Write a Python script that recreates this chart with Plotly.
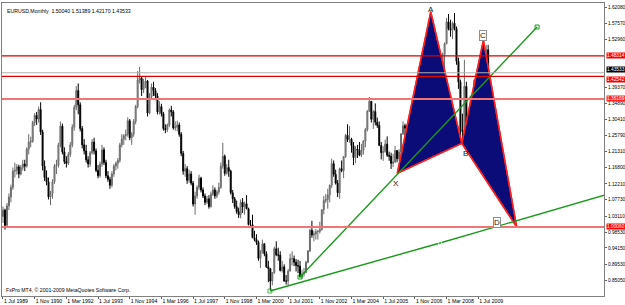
import plotly.graph_objects as go

# ---------------- data (monthly EURUSD, Jul 1989 .. Dec 2009) ----------------
opens = [
 1.030,1.048,1.005,1.060,1.085,1.112,
 1.158,1.160,1.170,1.150,1.168,1.178,1.172,1.220,1.240,1.242,1.295,1.315,
 1.305,1.332,1.268,1.172,1.140,1.128,1.085,1.095,1.128,1.172,1.175,1.232,
 1.285,1.212,1.185,1.180,1.205,1.232,1.282,1.338,1.385,1.345,1.278,1.232,
 1.215,1.190,1.178,1.210,1.240,1.215,1.160,1.145,1.178,1.218,1.182,1.145,
 1.135,1.118,1.150,1.172,1.180,1.188,1.232,1.248,1.258,1.262,1.300,1.252,
 1.262,1.298,1.340,1.415,1.420,1.388,1.408,1.412,1.322,1.368,1.395,1.385,
 1.370,1.325,1.340,1.320,1.278,1.275,1.288,1.330,1.325,1.280,1.282,1.288,
 1.262,1.208,1.158,1.165,1.132,1.150,1.124,1.065,1.088,1.112,1.138,1.105,
 1.088,1.070,1.080,1.058,1.093,1.105,1.088,1.099,1.112,1.172,1.200,1.152,
 1.168,1.158,1.097,1.080,1.058,1.044,1.035,1.070,1.057,1.066,1.052,1.007,
 1.007,0.970,0.965,0.957,0.912,0.932,0.953,0.925,0.888,0.883,0.848,0.872,
 0.939,0.922,0.921,0.878,0.888,0.848,0.848,0.876,0.911,0.911,0.901,0.892,
 0.890,0.860,0.868,0.872,0.901,0.933,0.991,0.978,0.981,0.987,0.988,0.994,
 1.049,1.075,1.078,1.091,1.118,1.179,1.149,1.124,1.097,1.165,1.159,1.199,
 1.259,1.247,1.248,1.230,1.196,1.220,1.217,1.203,1.217,1.243,1.275,1.327,
 1.355,1.304,1.326,1.296,1.287,1.230,1.210,1.213,1.234,1.203,1.200,1.180,
 1.184,1.216,1.193,1.212,1.263,1.286,1.279,1.276,1.281,1.267,1.275,1.324,
 1.320,1.302,1.322,1.336,1.365,1.345,1.353,1.369,1.363,1.426,1.449,1.463,
 1.459,1.486,1.517,1.579,1.560,1.555,1.575,1.560,1.468,1.409,1.273,1.270,
 1.397,1.280,1.267,1.324,1.324,1.415,1.403,1.425,1.433,1.464,1.472,1.5004,
]
highs = [
 1.058,1.052,1.068,1.095,1.120,1.168,
 1.182,1.178,1.176,1.175,1.190,1.190,1.225,1.262,1.255,1.300,1.322,1.325,
 1.340,1.352,1.275,1.188,1.160,1.140,1.102,1.135,1.178,1.190,1.238,1.298,
 1.292,1.225,1.200,1.212,1.240,1.290,1.345,1.398,1.405,1.352,1.285,1.248,
 1.232,1.200,1.215,1.248,1.252,1.222,1.175,1.185,1.232,1.225,1.190,1.158,
 1.142,1.158,1.178,1.185,1.195,1.238,1.262,1.262,1.275,1.310,1.305,1.268,
 1.305,1.345,1.440,1.452,1.425,1.418,1.425,1.415,1.378,1.405,1.410,1.392,
 1.378,1.355,1.348,1.325,1.290,1.292,1.335,1.342,1.330,1.298,1.300,1.295,
 1.268,1.215,1.178,1.172,1.162,1.158,1.130,1.100,1.118,1.148,1.142,1.112,
 1.095,1.088,1.090,1.100,1.118,1.112,1.105,1.125,1.182,1.238,1.205,1.178,
 1.190,1.162,1.105,1.085,1.075,1.055,1.078,1.082,1.072,1.090,1.055,1.020,
 1.035,0.990,0.980,0.962,0.935,0.965,0.955,0.932,0.905,0.885,0.872,0.945,
 0.960,0.942,0.932,0.905,0.895,0.865,0.882,0.925,0.932,0.920,0.910,0.908,
 0.905,0.880,0.885,0.905,0.935,0.995,1.018,0.990,0.995,0.992,1.015,1.050,
 1.088,1.093,1.108,1.120,1.193,1.188,1.162,1.133,1.168,1.188,1.200,1.263,
 1.290,1.285,1.252,1.240,1.228,1.232,1.240,1.235,1.245,1.280,1.330,1.367,
 1.355,1.330,1.349,1.309,1.298,1.240,1.228,1.247,1.256,1.213,1.210,1.207,
 1.229,1.217,1.220,1.265,1.298,1.292,1.288,1.292,1.288,1.282,1.330,1.336,
 1.324,1.326,1.339,1.368,1.368,1.354,1.385,1.380,1.427,1.450,1.497,1.477,
 1.492,1.521,1.590,1.601,1.585,1.580,1.604,1.566,1.478,1.416,1.320,1.472,
 1.410,1.304,1.371,1.347,1.417,1.436,1.427,1.445,1.475,1.508,1.514,1.51389,
]
lows = [
 1.012,0.993,0.998,1.048,1.070,1.105,
 1.140,1.148,1.138,1.146,1.160,1.158,1.168,1.205,1.225,1.238,1.285,1.288,
 1.295,1.260,1.160,1.130,1.118,1.078,1.062,1.080,1.122,1.150,1.168,1.225,
 1.205,1.178,1.168,1.175,1.198,1.225,1.272,1.330,1.318,1.270,1.222,1.205,
 1.182,1.168,1.170,1.205,1.205,1.155,1.138,1.140,1.170,1.175,1.138,1.128,
 1.108,1.112,1.142,1.160,1.165,1.182,1.225,1.232,1.245,1.255,1.245,1.232,
 1.255,1.290,1.335,1.405,1.370,1.378,1.392,1.312,1.318,1.360,1.370,1.358,
 1.318,1.318,1.312,1.272,1.265,1.268,1.282,1.312,1.275,1.272,1.270,1.255,
 1.200,1.148,1.142,1.122,1.125,1.118,1.058,1.035,1.080,1.105,1.098,1.082,
 1.062,1.065,1.052,1.055,1.088,1.080,1.082,1.092,1.108,1.165,1.145,1.148,
 1.142,1.092,1.068,1.052,1.038,1.026,1.025,1.040,1.035,1.050,1.005,1.000,
 0.970,0.960,0.950,0.905,0.885,0.925,0.918,0.885,0.845,0.823,0.836,0.868,
 0.918,0.905,0.875,0.872,0.846,0.838,0.835,0.875,0.892,0.890,0.875,0.870,
 0.858,0.855,0.860,0.870,0.898,0.930,0.970,0.960,0.965,0.965,0.982,0.990,
 1.036,1.068,1.052,1.070,1.110,1.142,1.120,1.085,1.080,1.155,1.138,1.195,
 1.240,1.238,1.210,1.175,1.180,1.195,1.200,1.198,1.205,1.225,1.270,1.325,
 1.295,1.277,1.287,1.280,1.230,1.191,1.187,1.210,1.198,1.187,1.164,1.169,
 1.181,1.183,1.187,1.201,1.260,1.252,1.252,1.271,1.262,1.252,1.273,1.308,
 1.286,1.290,1.303,1.333,1.343,1.330,1.350,1.336,1.362,1.404,1.440,1.432,
 1.437,1.449,1.516,1.555,1.537,1.530,1.555,1.458,1.390,1.233,1.240,1.255,
 1.274,1.251,1.246,1.290,1.318,1.381,1.385,1.405,1.420,1.454,1.463,1.4217,
]
closes = [
 1.048,1.005,1.060,1.085,1.112,1.158,
 1.160,1.170,1.150,1.168,1.178,1.172,1.220,1.240,1.242,1.295,1.315,1.305,
 1.332,1.268,1.172,1.140,1.128,1.085,1.095,1.128,1.172,1.175,1.232,1.285,
 1.212,1.185,1.180,1.205,1.232,1.282,1.338,1.385,1.345,1.278,1.232,1.215,
 1.190,1.178,1.210,1.240,1.215,1.160,1.145,1.178,1.218,1.182,1.145,1.135,
 1.118,1.150,1.172,1.180,1.188,1.232,1.248,1.258,1.262,1.300,1.252,1.262,
 1.298,1.340,1.415,1.420,1.388,1.408,1.412,1.322,1.368,1.395,1.385,1.370,
 1.325,1.340,1.320,1.278,1.275,1.288,1.330,1.325,1.280,1.282,1.288,1.262,
 1.208,1.158,1.165,1.132,1.150,1.124,1.065,1.088,1.112,1.138,1.105,1.088,
 1.070,1.080,1.058,1.093,1.105,1.088,1.099,1.112,1.172,1.200,1.152,1.168,
 1.158,1.097,1.080,1.058,1.044,1.035,1.070,1.057,1.066,1.052,1.007,1.007,
 0.970,0.965,0.957,0.912,0.932,0.953,0.925,0.888,0.883,0.848,0.872,0.939,
 0.922,0.921,0.878,0.888,0.848,0.848,0.876,0.911,0.911,0.901,0.892,0.890,
 0.860,0.868,0.872,0.901,0.933,0.991,0.978,0.981,0.987,0.988,0.994,1.049,
 1.075,1.078,1.091,1.118,1.179,1.149,1.124,1.097,1.165,1.159,1.199,1.259,
 1.247,1.248,1.230,1.196,1.220,1.217,1.203,1.217,1.243,1.275,1.327,1.355,
 1.304,1.326,1.296,1.287,1.230,1.210,1.213,1.234,1.203,1.200,1.180,1.184,
 1.216,1.193,1.212,1.263,1.286,1.279,1.276,1.281,1.267,1.275,1.324,1.320,
 1.302,1.322,1.336,1.365,1.345,1.353,1.369,1.363,1.426,1.449,1.463,1.459,
 1.486,1.517,1.579,1.560,1.555,1.575,1.560,1.468,1.409,1.273,1.270,1.397,
 1.280,1.267,1.324,1.324,1.415,1.403,1.425,1.433,1.464,1.472,1.500,1.43533,
]
months = list(range(len(closes)))          # bar index, 0 = Jul 1989

date_tick_pos = [0, 16, 32, 48, 64, 80, 96, 112, 128, 144, 160, 176, 192, 208, 224, 240]
date_tick_text = ["1 Jul 1989", "1 Nov 1990", "1 Mar 1992", "1 Jul 1993", "1 Nov 1994",
                  "1 Mar 1996", "1 Jul 1997", "1 Nov 1998", "1 Mar 2000", "1 Jul 2001",
                  "1 Nov 2002", "1 Mar 2004", "1 Jul 2005", "1 Nov 2006", "1 Mar 2008",
                  "1 Jul 2009"]
price_ticks = [1.62080, 1.57570, 1.52960, 1.39370, 1.34890, 1.30410, 1.25790, 1.21310,
               1.16800, 1.12210, 1.07730, 1.03110, 0.98530, 0.94150, 0.89530, 0.85050, 0.80570]

# horizontal levels
level_dark = [1.48314, 1.42542]
level_light = [1.36169, 1.00060]
bid_price = 1.43533

# harmonic pattern points (bar index, price)
pat_names = ["X", "A", "B", "C", "D"]
pat_x = [199.1, 216.0, 231.7, 242.6, 259.4]
pat_y = [1.1518, 1.6075, 1.2364, 1.5277, 1.0006]

# trend lines (bar index, price)
tl1_x = [134.8, 220.7, 304.0]
tl1_y = [0.8199, 0.9553, 1.0906]
tl2_x = [150.0, 269.7]
tl2_y = [0.8594, 1.5644]

title_text = "EURUSD,Monthly  1.50040 1.51389 1.42170 1.43533"
copyright_text = "FxPro MT4, \u00a9 2001-2009 MetaQuotes Software Corp."

FONT = "Liberation Sans"
fig = go.Figure()

# filled triangles XAB and BCD
for idx in ([0, 1, 2, 0], [2, 3, 4, 2]):
    fig.add_trace(go.Scatter(
        x=[pat_x[i] for i in idx], y=[pat_y[i] for i in idx],
        mode="lines", fill="toself", fillcolor="#0c0c78",
        line=dict(color="#ff2020", width=1.5), hoverinfo="skip", showlegend=False))

# candles
fig.add_trace(go.Candlestick(
    x=months, open=opens, high=highs, low=lows, close=closes,
    increasing=dict(line=dict(color="#6a6a6a", width=1), fillcolor="#a8a8a8"),
    decreasing=dict(line=dict(color="#000000", width=1), fillcolor="#000000"),
    whiskerwidth=0, showlegend=False))

# red outline again on top (edges)
for a, b in ((0, 1), (1, 2), (0, 2), (2, 3), (3, 4), (2, 4)):
    fig.add_trace(go.Scatter(x=[pat_x[a], pat_x[b]], y=[pat_y[a], pat_y[b]],
                             mode="lines", line=dict(color="#ff2020", width=1.3),
                             hoverinfo="skip", showlegend=False))

# horizontal lines
fig.add_hline(y=bid_price, line=dict(color="#b0b0b0", width=1))
for lv in level_dark:
    fig.add_hline(y=lv, line=dict(color="#dd0000", width=1.2))
for lv in level_light:
    fig.add_hline(y=lv, line=dict(color="#f27575", width=2))

# green trend lines
fig.add_trace(go.Scatter(x=tl1_x, y=tl1_y, mode="lines+markers",
                         line=dict(color="#1a9a1a", width=1.4),
                         marker=dict(symbol=["square-open", "circle", "circle"], size=[4, 3, 0],
                                     color="#1a9a1a"),
                         hoverinfo="skip", showlegend=False))
fig.add_trace(go.Scatter(x=tl2_x, y=tl2_y, mode="lines+markers",
                         line=dict(color="#1a9a1a", width=1.4),
                         marker=dict(symbol="square-open", size=4, color="#1a9a1a"),
                         hoverinfo="skip", showlegend=False))

# pattern labels
label_off = {"X": (-1, -10), "A": (0, 2), "B": (4, -10), "C": (0, 5), "D": (-20, 4)}
for n, px, py in zip(pat_names, pat_x, pat_y):
    dx, dy = label_off[n]
    boxed = n in ("C", "D")
    fig.add_annotation(x=px, y=py, text=n, showarrow=False, xshift=dx, yshift=dy,
                       font=dict(family=FONT, size=8, color="#202020"),
                       bgcolor="white" if boxed else None,
                       bordercolor="#909090" if boxed else None,
                       borderwidth=1 if boxed else 0, borderpad=0)

# price labels on the right
for lv, bg, anchor in ((1.48314, "#ff0000", "middle"), (1.42542, "#ff0000", "top"),
                       (1.36169, "#ff2020", "middle"), (1.00060, "#ff0000", "middle"),
                       (bid_price, "#000000", "bottom")):
    fig.add_annotation(x=1.0025, xref="paper", y=lv, yref="y", text=f"{lv:.5f}",
                       showarrow=False, xanchor="left", yanchor=anchor,
                       font=dict(family=FONT, size=4.8, color="white"),
                       bgcolor=bg, borderpad=0)

fig.add_annotation(x=0.005, xref="paper", y=0.99, yref="paper", text=title_text,
                   showarrow=False, xanchor="left", yanchor="top",
                   font=dict(family=FONT, size=5.2, color="black"))
fig.add_annotation(x=0.003, xref="paper", y=0.003, yref="paper", text=copyright_text,
                   showarrow=False, xanchor="left", yanchor="bottom",
                   font=dict(family=FONT, size=5.2, color="black"))

fig.update_layout(
    width=625, height=305,
    margin=dict(l=2, r=21, t=3, b=9),
    paper_bgcolor="white", plot_bgcolor="white",
    showlegend=False,
    xaxis=dict(range=[-0.5, 303.5], tickmode="array", tickvals=date_tick_pos,
               ticktext=date_tick_text, ticks="outside", ticklen=2, tickcolor="#606060",
               ticklabelposition="outside right", tickangle=0, automargin=False,
               tickfont=dict(family=FONT, size=5.2, color="black"),
               showgrid=False, zeroline=False, showline=True, linecolor="#808080",
               mirror=True, rangeslider=dict(visible=False), fixedrange=True),
    yaxis=dict(range=[0.8058, 1.6321], side="right", tickmode="array",
               tickvals=price_ticks, ticktext=[f"{v:.5f}" for v in price_ticks],
               ticks="outside", ticklen=2, tickcolor="#606060", automargin=False,
               tickfont=dict(family=FONT, size=4.8, color="black"),
               showgrid=False, zeroline=False, showline=True, linecolor="#808080",
               mirror=True, fixedrange=True),
)

fig.write_html("out.html")
